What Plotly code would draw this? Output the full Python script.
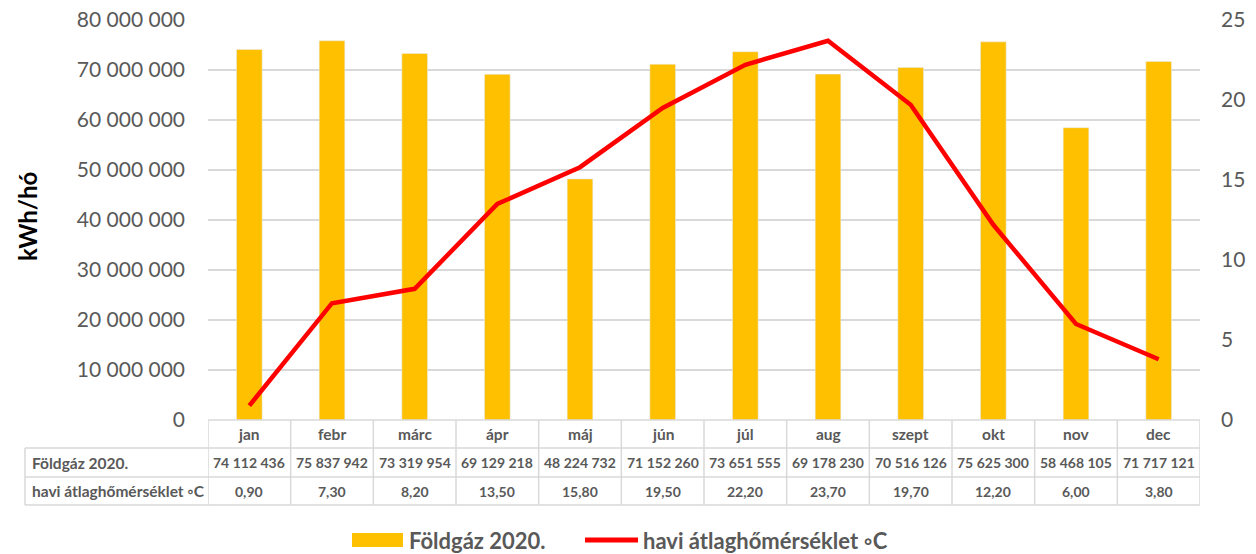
import plotly.graph_objects as go

months = ["jan", "febr", "márc", "ápr", "máj", "jún", "júl", "aug", "szept", "okt", "nov", "dec"]
gas_2020 = [74112436, 75837942, 73319954, 69129218, 48224732, 71152260,
            73651555, 69178230, 70516126, 75625300, 58468105, 71717121]
temp_avg = [0.90, 7.30, 8.20, 13.50, 15.80, 19.50, 22.20, 23.70, 19.70, 12.20, 6.00, 3.80]
left_ticks = [0, 10000000, 20000000, 30000000, 40000000, 50000000, 60000000, 70000000, 80000000]
right_ticks = [0, 5, 10, 15, 20, 25]
name_gas = "Földgáz 2020."
name_temp = "havi átlaghőmérséklet ◦C"

FONT = "Lato"
GRAY = "#595959"
GRID = "#d9d9d9"
W, H = 1256, 554
# plot area in page pixels: x 208..1200, y 20..420
L, T = 208, 20
R = W - 1200
B = H - 420
PH = H - T - B
PW = W - L - R


def py(pix):
    return (H - B - pix) / PH


def px(pix):
    return (pix - L) / PW


def fmt_int(v):
    return f"{v:,}".replace(",", " ")


def fmt_dec(v):
    return f"{v:.2f}".replace(".", ",")


x_idx = list(range(len(months)))

fig = go.Figure()
fig.add_trace(go.Bar(x=x_idx, y=gas_2020, name=name_gas, marker_color="#FFC000",
                     width=0.31, showlegend=False))
fig.add_trace(go.Scatter(x=x_idx, y=temp_avg, name=name_temp, mode="lines",
                         line=dict(color="#FF0000", width=4.5), yaxis="y2", showlegend=False))

shapes = []
annotations = []
row_y = [py(420), py(448), py(477), py(505)]
left_edge = px(25)
shapes.append(dict(type="line", xref="x", yref="paper", x0=-0.5, x1=11.5, y0=row_y[0], y1=row_y[0],
                   line=dict(color=GRID, width=1.5)))
for yy in row_y[1:]:
    shapes.append(dict(type="line", xref="paper", yref="paper", x0=left_edge, x1=1, y0=yy, y1=yy,
                       line=dict(color=GRID, width=1.5)))
shapes.append(dict(type="line", xref="paper", yref="paper", x0=left_edge, x1=left_edge, y0=row_y[1], y1=row_y[3],
                   line=dict(color=GRID, width=1.5)))
for i in range(len(months) + 1):
    shapes.append(dict(type="line", xref="x", yref="paper", x0=i - 0.5, x1=i - 0.5, y0=row_y[0], y1=row_y[3],
                       line=dict(color=GRID, width=1.5)))

tfont = dict(family=FONT, size=14, color=GRAY)
rfont = dict(family=FONT, size=15.5, color=GRAY)
for i, m in enumerate(months):
    annotations.append(dict(x=i, y=(row_y[0] + row_y[1]) / 2, xref="x", yref="paper", text=f"<b>{m}</b>",
                            showarrow=False, font=rfont, xanchor="center", yanchor="middle"))
    annotations.append(dict(x=i, y=(row_y[1] + row_y[2]) / 2, xref="x", yref="paper",
                            text=f"<b>{fmt_int(gas_2020[i])}</b>", showarrow=False, font=tfont,
                            xanchor="center", yanchor="middle"))
    annotations.append(dict(x=i, y=(row_y[2] + row_y[3]) / 2, xref="x", yref="paper",
                            text=f"<b>{fmt_dec(temp_avg[i])}</b>", showarrow=False, font=tfont,
                            xanchor="center", yanchor="middle"))
annotations.append(dict(x=px(30), y=(row_y[1] + row_y[2]) / 2, xref="paper", yref="paper", xanchor="left",
                        yanchor="middle", text=f"<b>{name_gas}</b>", showarrow=False, font=rfont))
annotations.append(dict(x=px(30), y=(row_y[2] + row_y[3]) / 2, xref="paper", yref="paper", xanchor="left",
                        yanchor="middle", text=f"<b>{name_temp}</b>", showarrow=False, font=rfont))

annotations.append(dict(x=px(27), y=py(217), xref="paper", yref="paper", text="<b>kWh/hó</b>", textangle=-90,
                        xanchor="center", yanchor="middle",
                        showarrow=False, font=dict(family=FONT, size=24, color="#000000")))

ly = py(540)
shapes.append(dict(type="rect", xref="paper", yref="paper", x0=px(352), x1=px(403), y0=py(547), y1=py(533),
                   fillcolor="#FFC000", line=dict(width=0)))
shapes.append(dict(type="line", xref="paper", yref="paper", x0=px(585), x1=px(638), y0=ly, y1=ly,
                   line=dict(color="#FF0000", width=5)))
lfont = dict(family=FONT, size=22, color=GRAY)
annotations.append(dict(x=px(407), y=ly, xref="paper", yref="paper", xanchor="left", yanchor="middle",
                        text=f"<b>{name_gas}</b>", showarrow=False, font=lfont))
annotations.append(dict(x=px(641), y=ly, xref="paper", yref="paper", xanchor="left", yanchor="middle",
                        text=f"<b>{name_temp}</b>", showarrow=False, font=lfont))

fig.update_layout(
    width=W, height=H,
    margin=dict(l=L, r=R, t=T, b=B, autoexpand=False),
    paper_bgcolor="white", plot_bgcolor="white",
    separators=", ",
    font=dict(family=FONT, color=GRAY),
    bargap=0.69,
    xaxis=dict(range=[-0.5, 11.5], showticklabels=False, showgrid=False, zeroline=False, showline=False,
               automargin=False),
    yaxis=dict(range=[0, 80000000], tickvals=left_ticks, ticktext=[fmt_int(v) for v in left_ticks],
               showgrid=True, gridcolor=GRID, gridwidth=1.5, zeroline=False, showline=False,
               tickfont=dict(family=FONT, size=21, color=GRAY), ticklabelstandoff=22, automargin=False,
               ticklabeloverflow="allow"),
    yaxis2=dict(range=[0, 25], tickvals=right_ticks, overlaying="y", side="right", showgrid=False,
                zeroline=False, showline=False, tickfont=dict(family=FONT, size=21, color=GRAY),
                ticklabelstandoff=20, automargin=False, ticklabeloverflow="allow"),
    shapes=shapes,
    annotations=annotations,
)

fig.write_html("out.html", config={"displayModeBar": False},
               post_script="document.body.style.margin='0';document.body.style.overflow='hidden';")
